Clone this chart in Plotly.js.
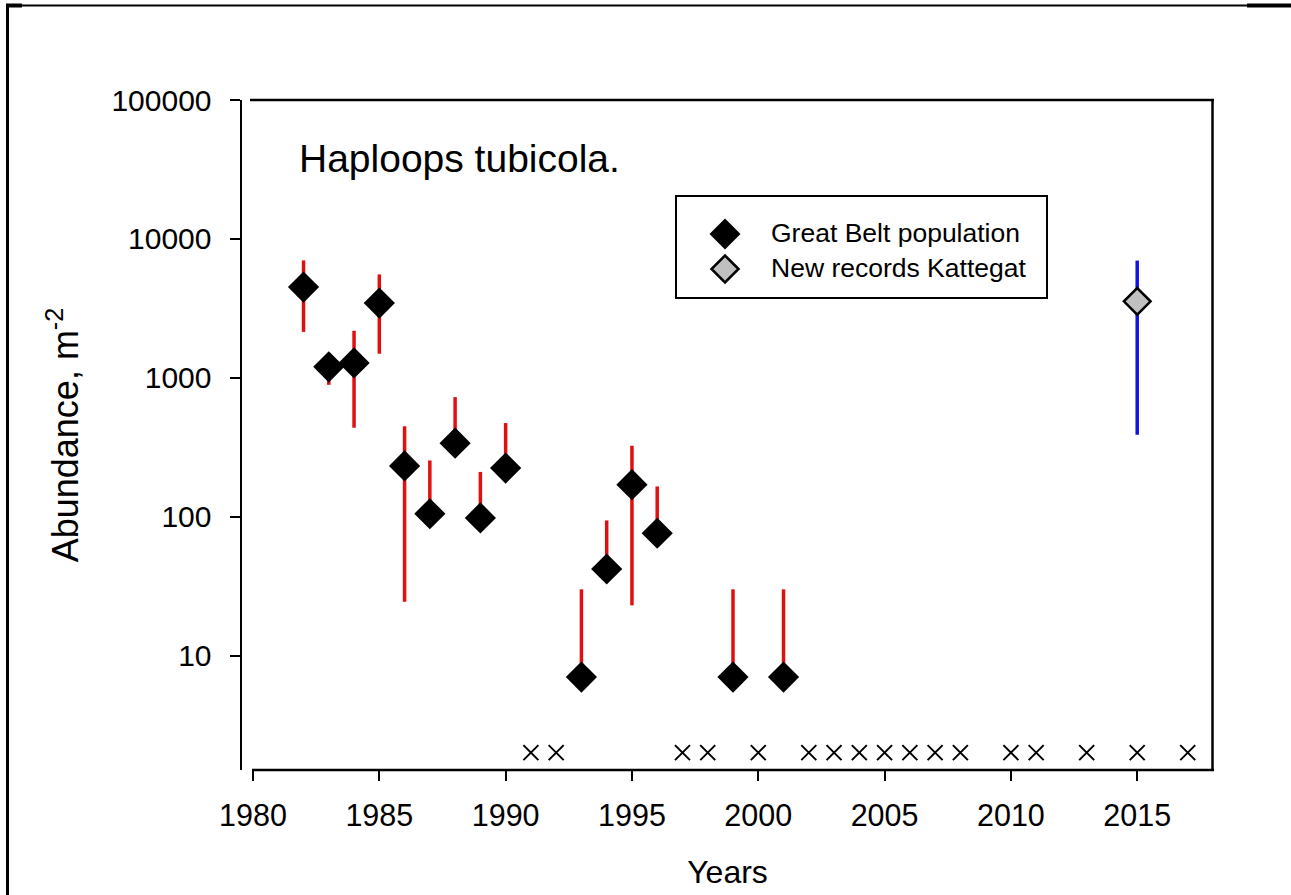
<!DOCTYPE html>
<html>
<head>
<meta charset="utf-8">
<script src="https://cdn.plot.ly/plotly-3.0.1.min.js"></script>
<style>
  html, body { margin: 0; padding: 0; background: #ffffff; }
  #chart { width: 1291px; height: 895px; }
</style>
</head>
<body>
<div id="chart"></div>
<script>
// ---- Data ----
const gbYears     = [1982, 1983, 1984, 1985, 1986, 1987, 1988, 1989, 1990, 1993, 1994, 1995, 1996, 1999, 2001];
const gbAbundance = [4500, 1200, 1280, 3450, 232, 105, 338, 98, 224, 7, 42, 170, 76, 7, 7];
const gbUpper     = [7000, 1500, 2180, 5550, 447, 254, 726, 210, 472, 30, 94, 324, 165, 30, 30];
const gbLower     = [2140, 890, 437, 1490, 24.4, 105, 338, 98, 224, 7, 42, 23, 76, 7, 7];

const kYears     = [2015];
const kAbundance = [3550];
const kUpper     = [6980];
const kLower     = [389];

const absentYears = [1991, 1992, 1997, 1998, 2000, 2002, 2003, 2004, 2005, 2006, 2007, 2008, 2010, 2011, 2013, 2015, 2017];
const absentLevel = absentYears.map(() => 2);

const xTickVals = [1980, 1985, 1990, 1995, 2000, 2005, 2010, 2015];
const yTickVals = [10, 100, 1000, 10000, 100000];
const yTickText = ['10', '100', '1000', '10000', '100000'];

const legendNames = ['Great Belt population', 'New records Kattegat'];
const speciesLabel = 'Haploops tubicola.';

// ---- Layout geometry helpers (pixel -> paper) ----
const W = 1291, H = 895;
const L = 242, R = 1213, T = 100, B = 770;
const px = v => (v - L) / (R - L);
const py = v => (B - v) / (B - T);

const FONT = 'Arial, "Liberation Sans", sans-serif';

const traces = [
  {
    x: absentYears, y: absentLevel, type: 'scatter', mode: 'markers',
    marker: { symbol: 'x-thin-open', size: 15, color: '#000', line: { color: '#000', width: 2 } },
    showlegend: false, hoverinfo: 'skip'
  },
  {
    x: gbYears, y: gbAbundance, type: 'scatter', mode: 'markers',
    name: legendNames[0],
    marker: { symbol: 'diamond', size: 24, color: '#000', line: { width: 0 } },
    error_y: {
      type: 'data', symmetric: false,
      array: gbUpper.map((u, i) => u - gbAbundance[i]),
      arrayminus: gbLower.map((l, i) => gbAbundance[i] - l),
      color: '#e01010', thickness: 3.5, width: 0
    },
    showlegend: false
  },
  {
    x: kYears, y: kAbundance, type: 'scatter', mode: 'markers',
    name: legendNames[1],
    marker: { symbol: 'diamond', size: 20.5, color: '#c0c0c0', line: { color: '#000', width: 2.5 } },
    error_y: {
      type: 'data', symmetric: false,
      array: kUpper.map((u, i) => u - kAbundance[i]),
      arrayminus: kLower.map((l, i) => kAbundance[i] - l),
      color: '#1010e8', thickness: 3.5, width: 0
    },
    showlegend: false
  }
];

const diamondPath = r => `M ${r} 0 L 0 ${r} L ${-r} 0 L 0 ${-r} Z`;

const shapes = [
  // outer partial frame
  { type: 'line', xref: 'paper', yref: 'paper', x0: px(7.5), x1: px(7.5), y0: py(4), y1: py(H + 5), line: { color: '#000', width: 3 } },
  { type: 'line', xref: 'paper', yref: 'paper', x0: px(6), x1: px(W + 5), y0: py(5.5), y1: py(5.5), line: { color: '#000', width: 2 } },
  { type: 'line', xref: 'paper', yref: 'paper', x0: px(6), x1: px(22), y0: py(5.5), y1: py(5.5), line: { color: '#000', width: 4 } },
  { type: 'line', xref: 'paper', yref: 'paper', x0: px(1247), x1: px(W + 5), y0: py(5.5), y1: py(5.5), line: { color: '#000', width: 4 } },
  // plot frame: x axis line (offset), top and right lines
  { type: 'line', xref: 'paper', yref: 'paper', x0: px(252), x1: px(1214), y0: 0, y1: 0, line: { color: '#000', width: 2.5 } },
  { type: 'line', xref: 'paper', yref: 'paper', x0: px(250), x1: px(1214), y0: 1, y1: 1, line: { color: '#000', width: 2.5 } },
  { type: 'line', xref: 'paper', yref: 'paper', x0: px(1212.5), x1: px(1212.5), y0: 0, y1: 1, line: { color: '#000', width: 2.5 } },
  // legend box
  { type: 'rect', xref: 'paper', yref: 'paper', x0: px(676), x1: px(1047), y0: py(298), y1: py(196), line: { color: '#000', width: 2 }, fillcolor: 'rgba(0,0,0,0)' },
  // legend symbols
  { type: 'path', xref: 'paper', yref: 'paper', xsizemode: 'pixel', ysizemode: 'pixel', xanchor: px(725), yanchor: py(234), path: diamondPath(15.5), fillcolor: '#000', line: { width: 0 } },
  { type: 'path', xref: 'paper', yref: 'paper', xsizemode: 'pixel', ysizemode: 'pixel', xanchor: px(725), yanchor: py(269), path: diamondPath(13.5), fillcolor: '#c0c0c0', line: { color: '#000', width: 2.5 } }
];

const annotations = [
  { xref: 'paper', yref: 'paper', x: px(297), y: py(159), xanchor: 'left', yanchor: 'middle', showarrow: false, text: speciesLabel, font: { family: FONT, size: 39, color: '#000' } },
  { xref: 'paper', yref: 'paper', x: px(769), y: py(233), xanchor: 'left', yanchor: 'middle', showarrow: false, text: legendNames[0], font: { family: FONT, size: 26.5, color: '#000' } },
  { xref: 'paper', yref: 'paper', x: px(769), y: py(268), xanchor: 'left', yanchor: 'middle', showarrow: false, text: legendNames[1], font: { family: FONT, size: 26.5, color: '#000' } }
];

const layout = {
  width: W, height: H,
  margin: { l: L, r: W - R, t: T, b: H - B, pad: 0 },
  paper_bgcolor: '#fff', plot_bgcolor: '#fff',
  font: { family: FONT, color: '#000' },
  showlegend: false,
  xaxis: {
    range: [1980 - 11 / 25.26, 2018],
    tickvals: xTickVals, ticktext: xTickVals.map(String),
    ticks: 'outside', ticklen: 10, tickwidth: 2, tickcolor: '#000',
    showline: false, showgrid: false, zeroline: false,
    tickfont: { family: FONT, size: 30.5, color: '#000' },
    ticklabelstandoff: 8,
    title: { text: 'Years', font: { family: FONT, size: 32, color: '#000' }, standoff: 30 }
  },
  yaxis: {
    type: 'log',
    range: [Math.log10(1.5), 5],
    tickvals: yTickVals, ticktext: yTickText,
    ticks: 'outside', ticklen: 10, tickwidth: 2, tickcolor: '#000',
    showline: true, linewidth: 2.5, linecolor: '#000',
    showgrid: false, zeroline: false,
    tickfont: { family: FONT, size: 30, color: '#000' },
    ticklabelstandoff: 12,
    title: { text: 'Abundance, m<sup>-2</sup>', font: { family: FONT, size: 36, color: '#000' }, standoff: 22 }
  },
  shapes: shapes,
  annotations: annotations
};

Plotly.newPlot('chart', traces, layout, { displayModeBar: false, staticPlot: true });
</script>
</body>
</html>
